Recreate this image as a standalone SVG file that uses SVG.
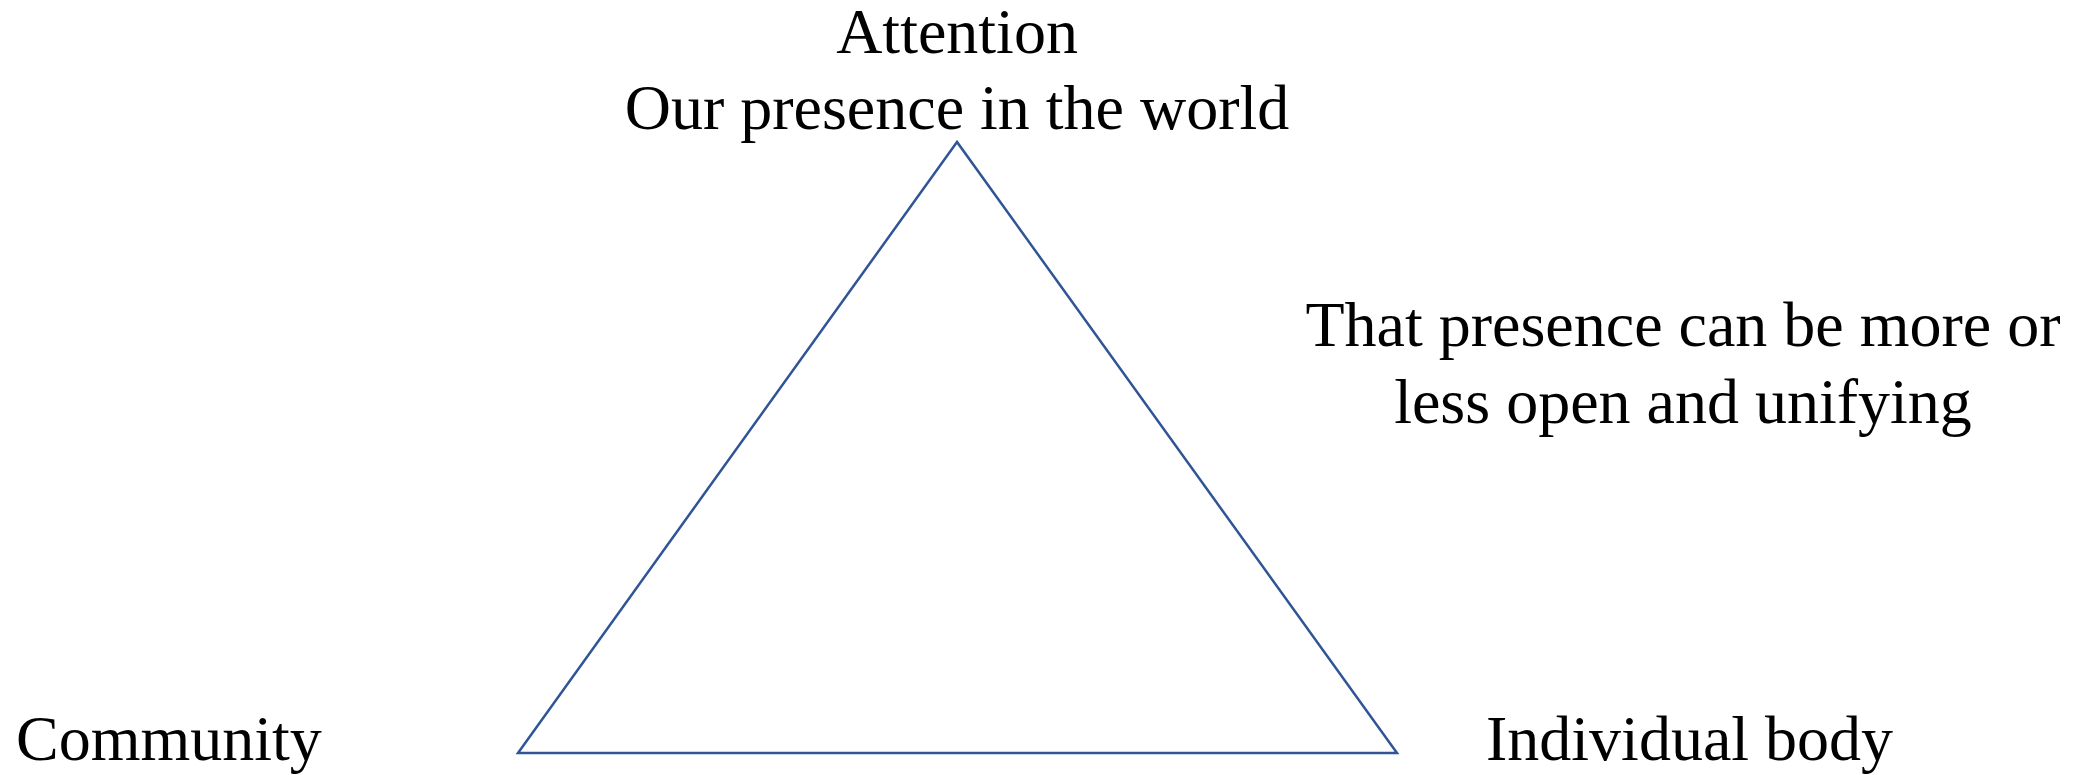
<svg xmlns="http://www.w3.org/2000/svg" width="2084" height="775" viewBox="0 0 2084 775">
<style>
text{font-family:"Liberation Serif","Times New Roman",serif;font-size:64px;fill:#000}
.tri{fill:none;stroke:#2F5597;stroke-width:2.5}
</style>
<rect width="2084" height="775" fill="#fff"/>
<g id="connectors">
<polygon class="tri" points="957,142 518,753 1397,753"/>
</g>
<g id="attention">
<text x="957" y="53" text-anchor="middle">Attention</text>
<text x="957" y="129" text-anchor="middle">Our presence in the world</text>
</g>
<g id="note">
<text x="1683" y="346" text-anchor="middle">That presence can be more or</text>
<text x="1683" y="423" text-anchor="middle">less open and unifying</text>
</g>
<g id="community">
<text x="16" y="760">Community</text>
</g>
<g id="individual">
<text x="1486" y="760">Individual body</text>
</g>
</svg>
